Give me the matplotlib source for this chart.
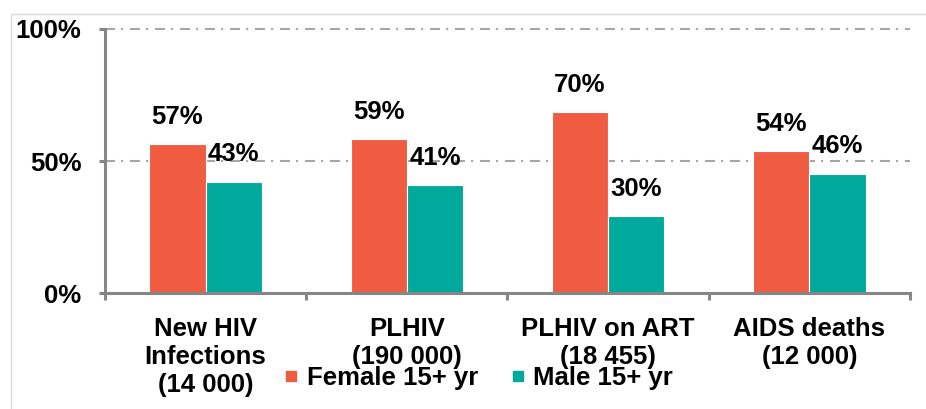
import matplotlib
matplotlib.use("Agg")
import matplotlib.pyplot as plt
from matplotlib.lines import Line2D
from matplotlib.patches import Rectangle
import numpy as np

plt.rcParams["font.family"] = ["Liberation Sans", "DejaVu Sans"]
plt.rcParams["font.weight"] = "bold"

# ---- data ----
categories = ["New HIV\nInfections\n(14 000)", "PLHIV\n(190 000)",
              "PLHIV on ART\n(18 455)", "AIDS deaths\n(12 000)"]
female = [56.5, 58.2, 68.7, 53.7]
male = [42.3, 41.1, 29.4, 45.3]
female_labels = ["57%", "59%", "70%", "54%"]
male_labels = ["43%", "41%", "30%", "46%"]
series_names = ["Female 15+ yr", "Male 15+ yr"]
yticks = [0, 50, 100]

C_F = "#F05C41"
C_M = "#00A99B"
GREY = "#868686"

fig = plt.figure(figsize=(9.26, 4.09), dpi=100)
ax = fig.add_axes([105 / 926, 1 - 293.3 / 409, 805 / 926, 264.3 / 409])

x = np.arange(len(categories))
w = 0.28
ax.bar(x - w / 2, female, w, color=C_F, edgecolor="white", linewidth=0.8, zorder=3)
ax.bar(x + w / 2, male, w, color=C_M, edgecolor="white", linewidth=0.8, zorder=3)

for i in range(len(categories)):
    ax.annotate(female_labels[i], (x[i] - w / 2, female[i]), xytext=(0, 19.5),
                textcoords="offset points", ha="center", va="center", fontsize=18.5, zorder=4)
    ax.annotate(male_labels[i], (x[i] + w / 2, male[i]), xytext=(0, 19.5),
                textcoords="offset points", ha="center", va="center", fontsize=18.5, zorder=4)

ax.set_xlim(-0.5, len(categories) - 0.5)
ax.set_ylim(0, 100)
ax.set_yticks(yticks)
ax.set_yticklabels([f"{v}%" for v in yticks], fontsize=18.5)
ax.set_xticks(x)
ax.set_xticklabels(categories, fontsize=18.5, linespacing=1.2)
ax.set_xticks(np.arange(len(categories) + 1) - 0.5, minor=True)

ax.tick_params(axis="x", which="major", length=0, pad=17)
ax.tick_params(axis="x", which="minor", length=5, width=2.2, color=GREY)
ax.tick_params(axis="y", length=4, width=2.2, color=GREY, pad=13)

for s in ["top", "right"]:
    ax.spines[s].set_visible(False)
for s in ["left", "bottom"]:
    ax.spines[s].set_color(GREY)
    ax.spines[s].set_linewidth(2.2)
    ax.spines[s].set_zorder(5)

for v in [50, 100]:
    ax.axhline(v, color="#a6a6a6", lw=1.5, ls=(0, (4.8, 2.9, 1.0, 3.3)), zorder=1,
               clip_on=False)

handles = [Line2D([], [], marker="s", ls="none", color=c, markersize=7.5)
           for c in (C_F, C_M)]
fig.legend(handles, series_names, loc="center", bbox_to_anchor=(0.517, 0.076), ncol=2,
           frameon=False, fontsize=18.5, handlelength=0.5, handletextpad=0.35,
           columnspacing=1.3, borderpad=0)

fig.patches.append(Rectangle((11 / 926, -0.1), 1.2, 1 - 14 / 409 + 0.1,
                             transform=fig.transFigure, fill=False,
                             edgecolor="#d9d9d9", lw=1))

fig.savefig("out.png", dpi=100)
